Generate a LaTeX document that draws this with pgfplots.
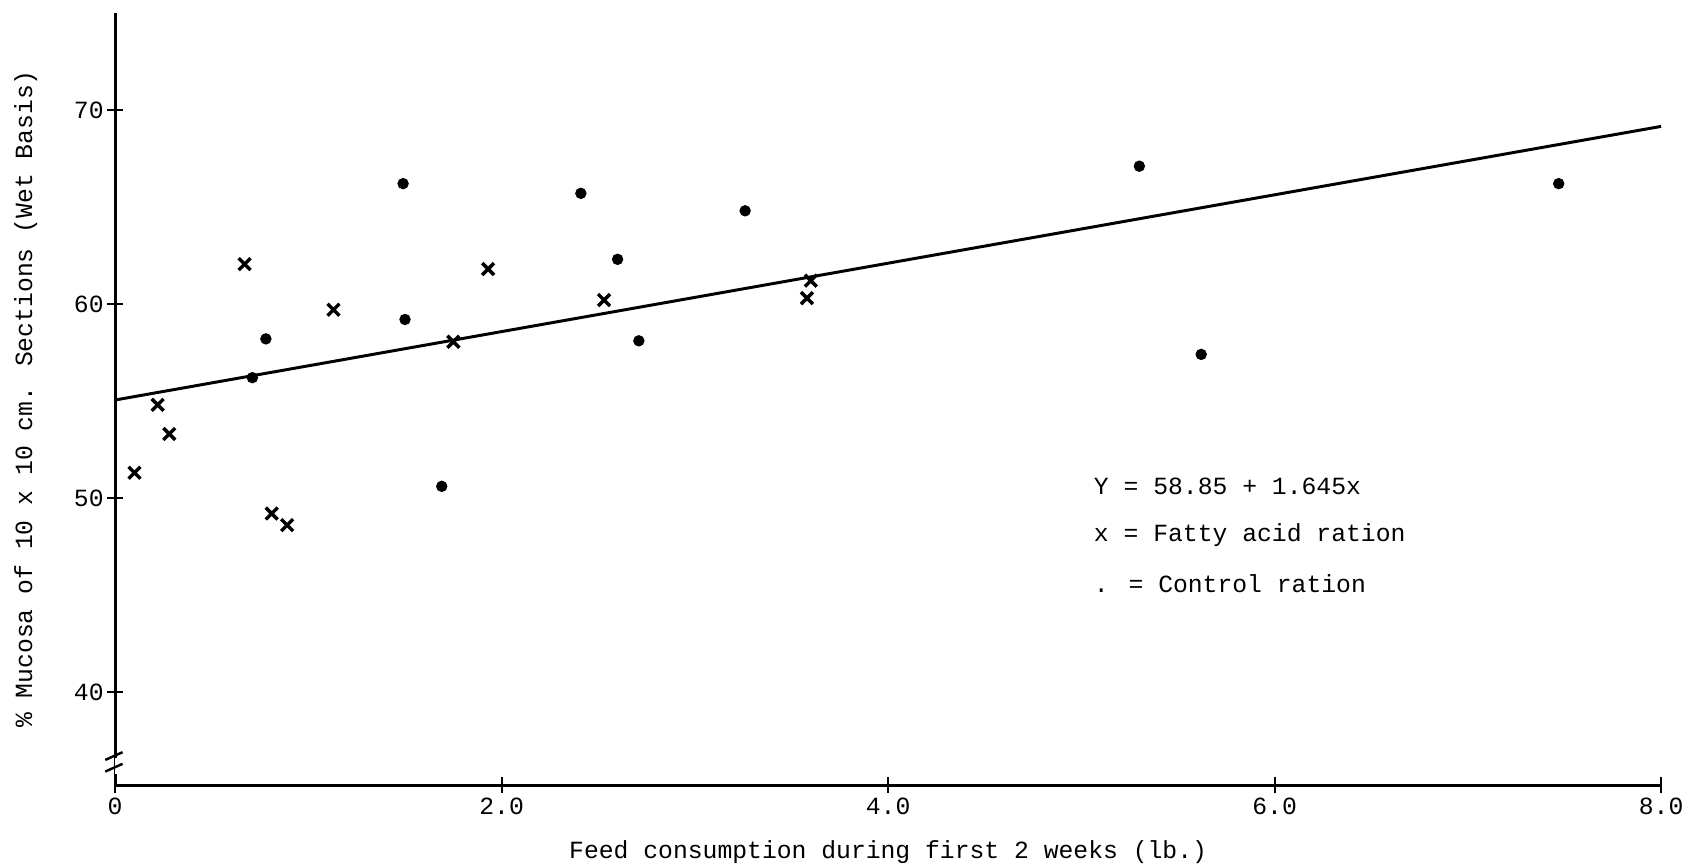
\documentclass[border=0pt]{standalone}
\usepackage{fontspec}
\setmainfont{Liberation Mono}
\usepackage{pgfplots}
\pgfplotsset{compat=1.18}

\begin{document}
\begin{tikzpicture}
\begin{axis}[
  scale only axis,
  width=21.98cm, height=10.98cm,
  xmin=0, xmax=8, ymin=35.2, ymax=75,
  axis lines=left,
  axis line style={line width=1.3pt, -},
  xtick={0,2,4,6,8},
  xticklabels={0,2.0,4.0,6.0,8.0},
  ytick={40,50,60,70},
  tick align=center,
  major tick length=0.22cm,
  tick style={line width=0.8pt, black},
  /pgf/number format/assume math mode=true,
  xticklabel style={yshift=1.5pt},
  yticklabel style={xshift=2pt},
  xlabel={Feed consumption during first 2 weeks (lb.)},
  ylabel={\% Mucosa of 10 x 10 cm. Sections (Wet Basis)},
  xlabel style={yshift=-3.5pt},
  ylabel style={yshift=8pt},
  clip=false,
]
  % regression line as drawn
  \addplot[black, line width=1.2pt] coordinates {(0,55.05) (8,69.15)};

  % fatty acid ration
  \addplot[only marks, mark=x, mark size=3.4pt, mark options={line width=1.4pt, black}]
    coordinates {
      (0.10,51.3) (0.22,54.8) (0.28,53.3) (0.67,62.05) (0.81,49.2)
      (0.89,48.6) (1.13,59.7) (1.75,58.05) (1.93,61.8) (2.53,60.2)
      (3.58,60.3) (3.60,61.2)
    };

  % control ration
  \addplot[only marks, mark=*, mark size=2.1pt, black]
    coordinates {
      (0.71,56.2) (0.78,58.2) (1.49,66.2) (1.50,59.2) (1.69,50.6)
      (2.41,65.7) (2.60,62.3) (2.71,58.1) (3.26,64.8) (5.30,67.1)
      (5.62,57.4) (7.47,66.2)
    };

  \node[anchor=west] at (axis cs:5.02,50.6) {Y = 58.85 + 1.645x};
  \node[anchor=west] at (axis cs:5.02,48.1) {x = Fatty acid ration};
  \node[anchor=west] at (axis cs:5.02,45.6) {. = Control ration};

  % axis break
  \fill[white] (axis cs:0,35.8) rectangle ([xshift=1.5pt]axis cs:0,36.6);
  \draw[line width=1pt] ([xshift=-4pt]axis cs:0,35.9) -- ([xshift=3pt]axis cs:0,36.3);
  \draw[line width=1pt] ([xshift=-4pt]axis cs:0,36.5) -- ([xshift=3pt]axis cs:0,36.9);

  \coordinate (bl) at (rel axis cs:-0.0745,-0.103);
  \coordinate (tr) at (rel axis cs:1.0174,1.0167);
\end{axis}
\pgfresetboundingbox
\path (bl) rectangle (tr);
\end{tikzpicture}
\end{document}
